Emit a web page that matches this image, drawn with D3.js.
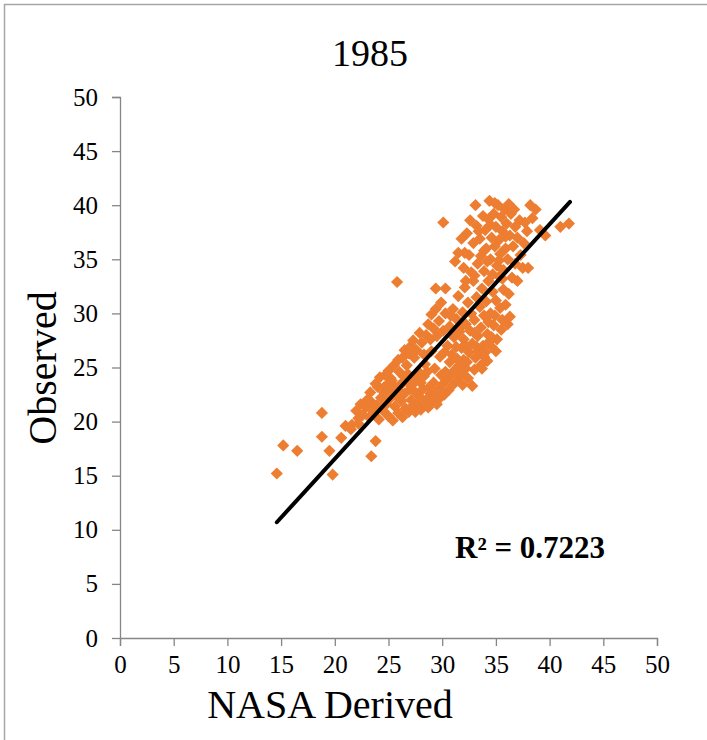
<!DOCTYPE html>
<html>
<head>
<meta charset="utf-8">
<script src="https://cdn.jsdelivr.net/npm/d3@7"></script>
<style>
    body { margin: 0; background: #fff; }
    svg text { font-family: "Liberation Serif", "Times New Roman", serif; fill: #000; }
    .axis path, .axis line { stroke: #868686; }
</style>
</head>
<body>
<div id="chart"></div>
<script>

// tick values for both axes
let xTicks = [0, 5, 10, 15, 20, 25, 30, 35, 40, 45, 50];
let yTicks = [0, 5, 10, 15, 20, 25, 30, 35, 40, 45, 50];

// [NASA derived, observed] pairs, grouped by area of the cloud
let lowOutliers = [
    [14.6, 15.2], [15.2, 17.8], [16.5, 17.3], [18.8, 20.8], [18.8, 18.6], [19.5, 17.3], [19.8, 15.1],
    [20.6, 18.5], [21.0, 19.6], [23.4, 16.8], [23.8, 18.2], [21.5, 19.3], [22.2, 19.8]
];

let lowerBand = [
    [21.6, 19.7], [22.2, 20.3], [22.0, 21.0], [22.6, 20.6], [22.9, 21.3], [23.2, 20.4], [23.4, 21.8], [23.6, 20.9],
    [23.9, 21.5], [24.1, 20.2], [24.3, 22.2], [24.5, 21.0], [24.6, 22.7], [24.8, 21.6], [25.0, 20.5], [25.1, 22.1],
    [25.3, 23.0], [25.4, 20.1], [25.6, 21.4], [25.7, 22.4], [25.9, 20.8], [26.0, 23.3], [26.2, 21.9], [26.3, 20.4],
    [26.5, 22.6], [26.6, 21.2], [26.8, 23.6], [26.9, 20.9], [27.1, 22.0], [27.2, 21.4], [27.4, 22.8], [27.5, 20.9],
    [27.7, 21.6], [27.9, 22.3], [28.0, 21.1], [28.2, 23.0], [28.4, 21.7], [28.6, 22.1], [28.7, 21.3], [28.9, 22.6],
    [29.1, 21.9], [29.3, 22.3], [29.5, 21.6], [29.6, 22.9], [29.8, 22.2], [30.0, 23.4], [30.2, 22.5], [30.4, 23.9],
    [30.6, 22.9], [30.8, 24.3], [31.0, 23.4], [31.2, 24.8], [31.4, 23.8], [31.6, 25.2], [31.8, 24.4], [32.0, 25.7],
    [32.2, 24.9], [23.0, 22.0], [24.0, 23.2], [25.2, 24.0], [26.4, 24.2], [22.4, 21.6], [24.9, 23.4], [26.1, 22.7],
    [27.3, 23.5], [28.3, 24.2], [29.2, 23.6], [30.3, 24.6], [26.8, 24.4], [27.5, 24.0], [28.0, 23.6], [28.6, 24.6],
    [29.3, 24.9], [29.9, 24.3], [27.0, 23.0], [28.8, 23.2], [26.3, 23.6], [25.6, 23.2]
];

let upperLeftBranch = [
    [23.3, 22.7], [23.8, 23.5], [24.2, 24.1], [24.6, 23.2], [24.7, 24.3], [25.0, 24.7], [25.3, 23.8], [25.5, 25.2],
    [25.9, 25.7], [26.0, 24.6], [26.3, 25.9], [26.5, 26.6], [26.7, 25.2], [26.9, 26.3], [27.1, 27.0], [27.3, 27.5],
    [27.4, 25.9], [27.6, 26.6], [27.9, 28.2], [28.1, 27.3], [28.3, 26.2], [28.5, 28.0], [28.7, 29.0], [28.9, 27.6],
    [29.0, 29.9], [29.2, 28.6], [29.4, 30.4], [29.5, 27.9], [29.7, 29.3], [29.9, 31.0], [30.1, 28.4], [30.3, 30.0],
    [29.4, 32.3], [30.3, 32.3], [25.8, 32.9], [30.1, 38.4], [28.4, 25.3], [27.8, 24.6], [29.0, 26.5], [29.8, 26.0]
];

let midCloud = [
    [30.5, 27.0], [30.7, 28.8], [30.9, 26.2], [31.0, 30.4], [31.1, 27.8], [31.3, 29.5], [31.4, 25.8], [31.5, 31.6],
    [31.6, 28.3], [31.8, 26.8], [31.9, 30.1], [32.0, 27.6], [32.1, 32.4], [32.2, 29.0], [32.3, 25.5], [32.4, 31.0],
    [32.5, 26.4], [32.6, 28.4], [32.7, 30.0], [32.8, 27.2], [32.9, 33.0], [33.0, 29.4], [33.1, 25.9], [33.2, 31.5],
    [33.3, 27.9], [33.4, 26.5], [33.5, 30.6], [33.6, 28.7], [33.7, 32.3], [33.8, 27.0], [33.9, 29.8], [34.0, 26.4],
    [34.1, 31.1], [34.2, 28.1], [34.3, 33.0], [34.4, 27.4], [34.5, 30.0], [34.6, 26.9], [34.7, 32.0], [34.8, 28.9],
    [34.9, 29.8], [35.0, 31.2], [35.1, 27.6], [35.3, 33.4], [35.4, 30.5], [35.5, 28.5], [35.7, 32.2], [35.9, 30.8],
    [36.1, 29.0], [36.3, 29.7], [36.2, 31.8], [31.2, 24.6], [31.7, 25.1], [32.4, 24.0], [33.0, 24.8], [33.6, 25.2],
    [32.8, 23.3], [31.9, 23.4], [30.7, 25.5], [30.2, 26.4], [34.2, 25.6], [33.2, 26.9], [33.9, 26.0], [34.6, 27.8],
    [35.0, 26.5], [34.3, 29.2], [33.0, 28.2], [32.2, 27.0], [35.6, 29.4], [33.7, 24.9], [31.3, 26.9], [30.8, 29.8],
    [31.9, 28.9]
];

let upperCloud = [
    [31.2, 34.8], [31.5, 35.6], [31.8, 36.9], [32.0, 34.2], [32.3, 37.4], [32.5, 35.4], [32.7, 33.8], [32.9, 36.5],
    [33.1, 40.0], [33.2, 38.1], [33.3, 34.6], [33.5, 36.9], [33.6, 35.3], [33.8, 39.0], [33.9, 33.9], [34.0, 37.7],
    [34.1, 36.0], [34.3, 38.7], [34.4, 40.4], [34.5, 35.0], [34.6, 37.0], [34.7, 33.6], [34.8, 39.2], [34.9, 36.2],
    [35.0, 38.0], [35.1, 34.4], [35.2, 40.0], [35.3, 36.8], [35.4, 35.5], [35.5, 38.9], [35.6, 37.6], [35.7, 34.0],
    [35.8, 39.6], [35.9, 36.0], [36.0, 38.3], [36.1, 35.0], [36.3, 37.2], [36.4, 39.2], [36.6, 36.2], [36.8, 38.0],
    [37.0, 37.0], [37.2, 38.6], [37.3, 35.4], [37.5, 34.2], [37.7, 38.4], [38.0, 34.2], [38.2, 40.0], [38.4, 38.8],
    [38.7, 39.6], [39.1, 37.7], [39.6, 37.2], [41.0, 38.0], [41.8, 38.3], [36.5, 33.3], [37.0, 33.0], [33.0, 33.5],
    [32.2, 33.0], [36.8, 34.6], [34.2, 34.8], [35.6, 33.2], [33.4, 37.6], [34.5, 38.2], [35.9, 37.1], [36.7, 39.6],
    [37.6, 36.5], [33.9, 35.8], [32.6, 38.6], [34.9, 40.2], [36.2, 40.1], [37.9, 37.6], [32.1, 35.6], [35.3, 34.9]
];

// linear trend line end points and its R squared
let trendLine = [[14.6, 10.7], [41.9, 40.3]];
let rSquared = "0.7223";

let allPoints = lowOutliers.concat(lowerBand, upperLeftBranch, midCloud, upperCloud);

let width = 707, height = 740;
let margin = {top: 97, right: 50, bottom: 102, left: 120};
let plotW = width - margin.left - margin.right;
let plotH = height - margin.top - margin.bottom;

let svg = d3.select("#chart").append("svg")
    .attr("width", width)
    .attr("height", height);

// outer chart border
svg.append("rect")
    .attr("x", 4.5).attr("y", 4.5)
    .attr("width", width + 20).attr("height", height + 20)
    .attr("fill", "none")
    .attr("stroke", "#a6a6a6")
    .attr("stroke-width", 1.5);

let g = svg.append("g")
    .attr("transform", `translate(${margin.left}, ${margin.top})`);

// scales
let x = d3.scaleLinear().domain([0, 50]).range([0, plotW]);
let y = d3.scaleLinear().domain([0, 50]).range([plotH, 0]);

// axes
let xAxis = g.append("g")
    .attr("class", "axis x-axis")
    .attr("transform", `translate(0, ${plotH})`)
    .call(d3.axisBottom(x).tickValues(xTicks).tickSize(8).tickSizeOuter(8).tickPadding(9));
xAxis.selectAll("text").attr("font-size", "25px").attr("fill", "#000");

let yAxis = g.append("g")
    .attr("class", "axis y-axis")
    .call(d3.axisLeft(y).tickValues(yTicks).tickSize(8).tickSizeOuter(8).tickPadding(14));
yAxis.selectAll("text").attr("font-size", "25px").attr("fill", "#000");

g.selectAll(".axis path").attr("stroke", "#868686").attr("stroke-width", 1.3);
g.selectAll(".axis line").attr("stroke", "#868686").attr("stroke-width", 1.3);
xAxis.select(".domain").attr("d", `M0.5,8V0.5H${plotW + 0.5}V8`);
yAxis.select(".domain").attr("d", `M-8,0.5H0.5V${plotH + 0.5}`);

// diamond markers
let diamond = d3.symbol().type(d3.symbolSquare).size(74);
g.append("g").selectAll(".pt")
    .data(allPoints)
    .enter()
    .append("path")
    .attr("class", "pt")
    .attr("d", diamond)
    .attr("transform", d => `translate(${x(d[0])}, ${y(d[1])}) rotate(45)`)
    .attr("fill", "#ed7d31");

// trend line
g.append("line")
    .attr("x1", x(trendLine[0][0])).attr("y1", y(trendLine[0][1]))
    .attr("x2", x(trendLine[1][0])).attr("y2", y(trendLine[1][1]))
    .attr("stroke", "#000")
    .attr("stroke-width", 4)
    .attr("stroke-linecap", "round");

// title
svg.append("text")
    .attr("x", 370).attr("y", 66)
    .attr("text-anchor", "middle")
    .attr("font-size", "38px")
    .text("1985");

// axis titles
svg.append("text")
    .attr("x", 330).attr("y", 718)
    .attr("text-anchor", "middle")
    .attr("font-size", "40px")
    .text("NASA Derived");

svg.append("text")
    .attr("transform", "translate(56, 368) rotate(-90)")
    .attr("text-anchor", "middle")
    .attr("font-size", "40px")
    .text("Observed");

// R squared label
svg.append("text")
    .attr("x", 455).attr("y", 558)
    .attr("font-size", "31px")
    .attr("font-weight", "bold")
    .text(`R² = ${rSquared}`);

</script>
</body>
</html>
